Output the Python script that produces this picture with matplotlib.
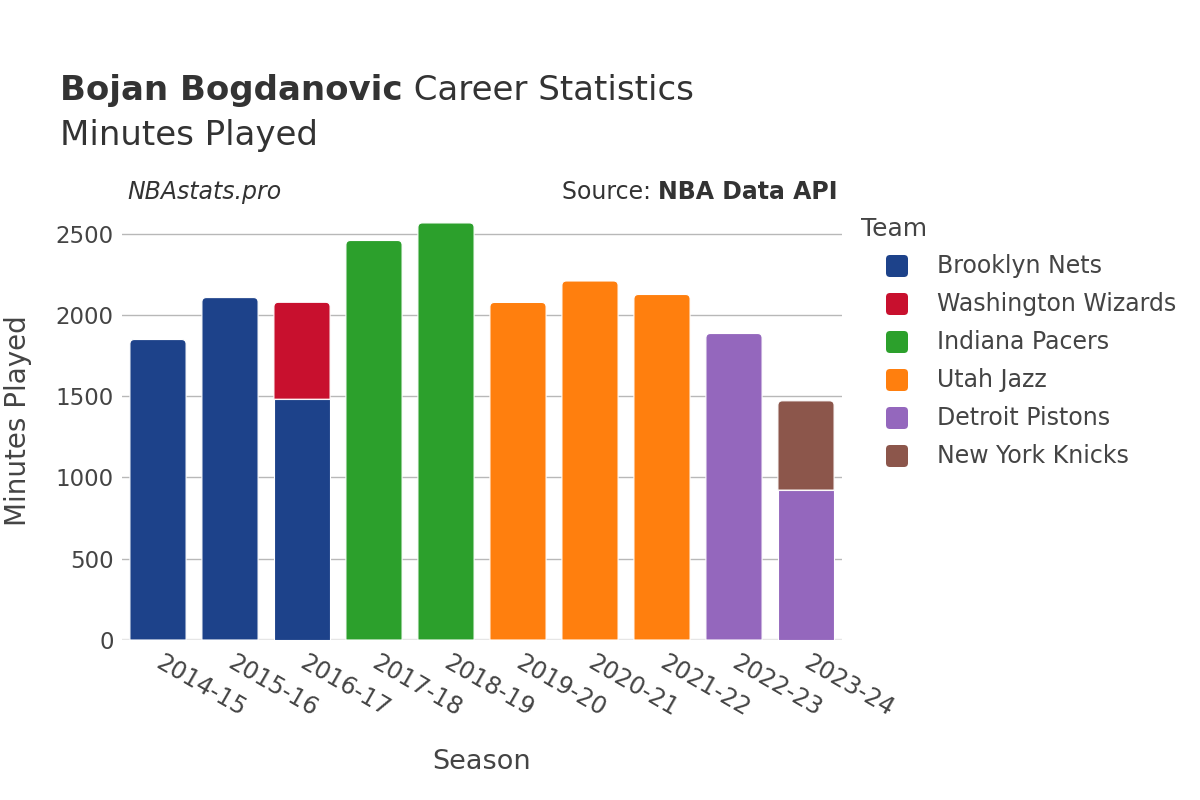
import matplotlib
matplotlib.use("Agg")
import matplotlib.pyplot as plt
from matplotlib.path import Path
from matplotlib.patches import PathPatch, FancyBboxPatch
from matplotlib.transforms import IdentityTransform

plt.rcParams["font.family"] = ["DejaVu Sans"]

seasons = ["2014-15", "2015-16", "2016-17", "2017-18", "2018-19",
           "2019-20", "2020-21", "2021-22", "2022-23", "2023-24"]
teams = ["Brooklyn Nets", "Washington Wizards", "Indiana Pacers",
         "Utah Jazz", "Detroit Pistons", "New York Knicks"]
team_colors = ["#1d428a", "#c8102e", "#2ca02c", "#ff7f0e", "#9467bd", "#8c564b"]

nets = [1848, 2106, 1481, 0, 0, 0, 0, 0, 0, 0]
wizards = [0, 0, 596, 0, 0, 0, 0, 0, 0, 0]
pacers = [0, 0, 0, 2457, 2565, 0, 0, 0, 0, 0]
jazz = [0, 0, 0, 0, 0, 2076, 2208, 2125, 0, 0]
pistons = [0, 0, 0, 0, 0, 0, 0, 0, 1885, 922]
knicks = [0, 0, 0, 0, 0, 0, 0, 0, 0, 549]
minutes = [nets, wizards, pacers, jazz, pistons, knicks]

TXT = "#444444"
W, H = 1200, 800
fig = plt.figure(figsize=(12, 8), dpi=100)
ax = fig.add_axes([122 / W, 160 / H, 720 / W, 439 / H])

ax.set_xlim(-0.5, len(seasons) - 0.5)
ax.set_ylim(0, 2700)
bar_w = 0.78
rpx = 4.5
rx = rpx / (720 / len(seasons))
ry = rpx / (439 / 2700)


def bar_path(x0, y0, x1, y1, rounded):
    if not rounded:
        verts = [(x0, y0), (x1, y0), (x1, y1), (x0, y1), (x0, y0)]
        codes = [Path.MOVETO] + [Path.LINETO] * 3 + [Path.CLOSEPOLY]
        return Path(verts, codes)
    r_y = min(ry, (y1 - y0))
    verts = [(x0, y0), (x1, y0), (x1, y1 - r_y), (x1, y1), (x1 - rx, y1),
             (x0 + rx, y1), (x0, y1), (x0, y1 - r_y), (x0, y0)]
    codes = [Path.MOVETO, Path.LINETO, Path.LINETO, Path.CURVE3, Path.CURVE3,
             Path.LINETO, Path.CURVE3, Path.CURVE3, Path.CLOSEPOLY]
    return Path(verts, codes)


totals = [sum(m[i] for m in minutes) for i in range(len(seasons))]
for i in range(len(seasons)):
    bottom = 0
    for t, vals in enumerate(minutes):
        v = vals[i]
        if v <= 0:
            continue
        top = bottom + v
        p = bar_path(i - bar_w / 2, bottom, i + bar_w / 2, top, top >= totals[i])
        ax.add_patch(PathPatch(p, facecolor=team_colors[t], edgecolor="white",
                               linewidth=0.8, zorder=3))
        bottom = top

ax.set_yticks([0, 500, 1000, 1500, 2000, 2500])
ax.yaxis.grid(True, color="#b8b8b8", linewidth=1, zorder=0)
ax.set_axisbelow(True)
ax.axhline(0, color="#e6e6e6", linewidth=2.5, zorder=1)
for s in ax.spines.values():
    s.set_visible(False)
ax.tick_params(axis="y", length=0, labelsize=16.5, labelcolor=TXT, pad=6)
ax.set_xticks(range(len(seasons)))
ax.set_xticklabels(seasons, rotation=-30, ha="left", va="center",
                   rotation_mode="anchor")
ax.tick_params(axis="x", length=0, labelsize=17.2, labelcolor=TXT, pad=15)

ax.set_xlabel("Season", fontsize=19.5, color=TXT, labelpad=0)
ax.xaxis.set_label_coords(0.5, -109 / 439)
ax.set_ylabel("Minutes Played", fontsize=20, color=TXT)
ax.yaxis.set_label_coords(-90 / 720, 0.5)

# title block
renderer = fig.canvas.get_renderer()
t1 = fig.text(60 / W, 1 - 100 / H, "Bojan Bogdanovic", fontsize=24.5,
              fontweight="bold", color="#333333", va="baseline")
bb = t1.get_window_extent(renderer)
fig.text(bb.x1 / W, 1 - 100 / H, " Career Statistics", fontsize=24.5,
         color="#333333", va="baseline")
fig.text(60 / W, 1 - 145 / H, "Minutes Played", fontsize=24.5,
         color="#333333", va="baseline")

fig.text(127 / W, 1 - 199 / H, "NBAstats.pro", fontsize=17, style="italic",
         color="#333333", va="baseline")
s2 = fig.text(838 / W, 1 - 199 / H, "NBA Data API", fontsize=17,
              fontweight="bold", color="#333333", va="baseline", ha="right")
bb2 = s2.get_window_extent(renderer)
fig.text(bb2.x0 / W, 1 - 199 / H, "Source: ", fontsize=17, color="#333333",
         va="baseline", ha="right")

# legend
fig.text(861 / W, 1 - 236 / H, "Team", fontsize=18, color=TXT, va="baseline")
for k, (name, col) in enumerate(zip(teams, team_colors)):
    yc = 266 + 38 * k
    sq = FancyBboxPatch((886, H - yc - 11), 22, 22,
                        boxstyle="round,pad=0,rounding_size=4",
                        facecolor=col, edgecolor="none",
                        transform=IdentityTransform())
    fig.add_artist(sq)
    fig.text(937 / W, 1 - yc / H, name, fontsize=17, color=TXT, va="center")

fig.savefig("out.png", dpi=100, facecolor="white")
plt.close(fig)
